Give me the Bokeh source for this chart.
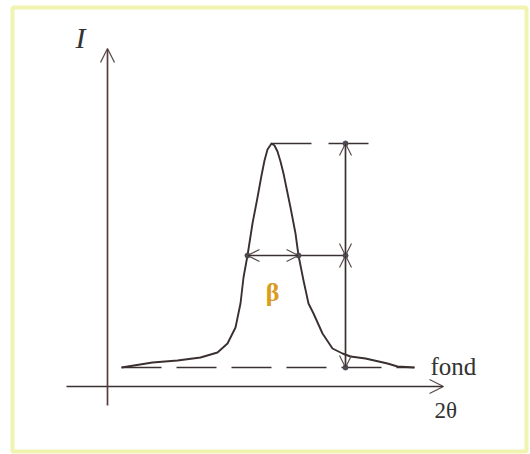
from bokeh.plotting import figure
from bokeh.models import Range1d, Arrow, OpenHead, Label
from bokeh.embed import file_html
from bokeh.resources import INLINE

# Diffraction peak profile (2θ in arbitrary units, intensity in arbitrary units)
two_theta = [14, 45, 70, 93, 110, 120, 128, 133, 136, 140, 145, 150, 154, 157,
             160, 164, 167, 170, 173, 176, 183, 188, 191, 196, 201, 206, 215,
             225, 235, 243, 258, 280, 290, 307]
intensity = [19, 24, 26, 29, 34, 43, 59, 83, 109, 131, 163, 189, 211, 226,
             237, 243, 241, 235, 225, 213, 179, 153, 131, 106, 83, 73, 53,
             38, 33, 30, 28, 23, 20, 19]

background = 19          # "fond" level
peak_pos = 164
peak_max = 243
half_max = (peak_max + background) / 2
fwhm_left = 140
fwhm_right = 191
measure_x = 238          # position of the height measurement
background_span = [14, 307]
top_line_end = 261

axis_x_span = [-41, 336]
axis_y_span = [-19, 338]

ink = "#3a3030"
head_ink = "#5a4d4d"

p = figure(width=530, height=454, output_backend="svg", toolbar_location=None,
           x_range=Range1d(-107, 423), y_range=Range1d(-68, 386),
           min_border=0, background_fill_color="white",
           border_fill_color="white")
p.axis.visible = False
p.grid.visible = False
p.outline_line_color = None

# pale frame around the diagram
p.quad(left=[-95], right=[419], bottom=[-65], top=[379], fill_color=None,
       line_color="#f0f4b0", line_width=4)

# coordinate axes with open arrow tips
p.add_layout(Arrow(end=OpenHead(size=14, line_color=head_ink, line_width=1.3),
                   x_start=axis_x_span[0], y_start=0, x_end=axis_x_span[1], y_end=0,
                   line_color=ink, line_width=1.7))
p.add_layout(Arrow(end=OpenHead(size=14, line_color=head_ink, line_width=1.3),
                   x_start=0, y_start=axis_y_span[0], x_end=0, y_end=axis_y_span[1],
                   line_color="#5a3c3c", line_width=1.7))

# background level (dashed)
p.line(background_span, [background, background], line_color=ink,
       line_width=1.7, line_dash="40 15")

# peak profile
p.line(two_theta, intensity, line_color=ink, line_width=1.9, line_join="round")

# maximum level line
p.line([peak_pos, top_line_end], [peak_max, peak_max], line_color=ink,
       line_width=1.7, line_dash="40 17")

# half-maximum line from the FWHM mark to the measurement line
p.line([fwhm_right, measure_x], [half_max, half_max], line_color=ink, line_width=1.7)

# β : full width at half maximum
p.add_layout(Arrow(start=OpenHead(size=12, line_color=head_ink, line_width=1.2),
                   end=OpenHead(size=12, line_color=head_ink, line_width=1.2),
                   x_start=fwhm_left, y_start=half_max, x_end=fwhm_right, y_end=half_max,
                   line_color=ink, line_width=1.7))

# height measurements: max -> half, half -> background
p.add_layout(Arrow(start=OpenHead(size=12, line_color=head_ink, line_width=1.2),
                   end=OpenHead(size=12, line_color=head_ink, line_width=1.2),
                   x_start=measure_x, y_start=half_max, x_end=measure_x, y_end=peak_max,
                   line_color=ink, line_width=1.7))
p.add_layout(Arrow(start=OpenHead(size=12, line_color=head_ink, line_width=1.2),
                   end=OpenHead(size=12, line_color=head_ink, line_width=1.2),
                   x_start=measure_x, y_start=half_max, x_end=measure_x, y_end=background,
                   line_color=ink, line_width=1.7))

p.scatter([fwhm_left, fwhm_right, measure_x, measure_x, measure_x],
          [half_max, half_max, half_max, peak_max, background],
          size=5, color="#4a4a55")

# labels
p.add_layout(Label(x=-32, y=333, text="I", text_font="Liberation Serif",
                   text_font_style="italic", text_font_size="30px",
                   text_color="#333333"))
p.add_layout(Label(x=327, y=-36, text="2θ", text_font="Liberation Serif",
                   text_font_size="23px", text_color="#333333"))
p.add_layout(Label(x=323, y=background + 1, text="fond", text_font="Liberation Serif",
                   text_font_size="25px", text_color="#333333",
                   text_baseline="alphabetic"))
p.add_layout(Label(x=peak_pos + 1, y=94, text="β", text_font="Liberation Serif",
                   text_font_style="bold", text_font_size="26px",
                   text_color="#d99c1c", text_align="center",
                   text_baseline="middle"))

open("out.html", "w").write(file_html(p, INLINE))
